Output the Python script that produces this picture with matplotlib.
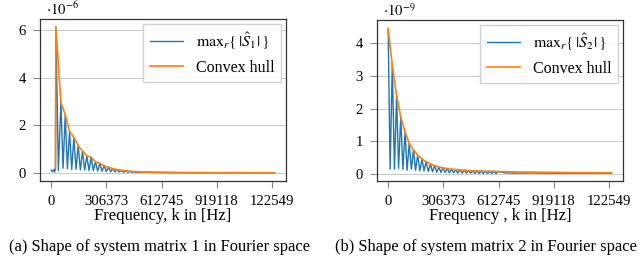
import numpy as np
import matplotlib
matplotlib.use('Agg')
import matplotlib.pyplot as plt

plt.rcParams['font.family'] = 'serif'
plt.rcParams['font.serif'] = ['Liberation Serif', 'DejaVu Serif']
plt.rcParams['mathtext.fontset'] = 'stix'

# x ticks (Hz) and their printed labels
tick_pos = [0, 306373, 612745, 919118, 1225490]
tick_lab = ['0', '306373', '612745', '919118', '122549']

# ---- panel (a): values in units of 1e-6, frequencies in kHz ----
pre_f1 = [0, 8, 14, 20, 24]
pre_v1 = [0.12, 0.05, 0.14, 0.04, 0.22]
peak_f1 = [26, 54, 78, 102, 126, 150, 174, 198, 222, 246, 270, 294, 318,
           342, 366, 390, 414, 438, 462, 486, 510]
peak_v1 = [6.15, 2.97, 2.45, 1.75, 1.50, 1.15, 0.92, 0.72, 0.66, 0.47,
           0.40, 0.30, 0.24, 0.18, 0.14, 0.11, 0.09, 0.07, 0.06, 0.05, 0.04]
trough_f1 = [40, 66, 90, 114, 138, 162, 186, 210, 234, 258, 282, 306, 330,
             354, 378, 402, 426, 450, 474, 498]
trough_v1 = [0.10, 0.20, 0.18, 0.15, 0.15, 0.13, 0.12, 0.10, 0.10, 0.08,
             0.07, 0.06, 0.05, 0.04, 0.04, 0.03, 0.03, 0.02, 0.02, 0.02]
tail_f1 = [540, 570, 600, 650, 700, 800, 900, 1000, 1100, 1240]
tail_v1 = [0.03, 0.02, 0.025, 0.015, 0.01, 0.01, 0.01, 0.01, 0.01, 0.01]
hull_tail_f1 = [600, 700, 900, 1100, 1240]
hull_tail_v1 = [0.03, 0.02, 0.015, 0.012, 0.01]

# ---- panel (b): values in units of 1e-9, frequencies in kHz ----
peak_f2 = [0, 23, 47, 70, 94, 117, 141, 164, 188, 211, 235, 258, 282, 305,
           329, 352, 376, 399, 423, 446, 470, 493, 517, 540, 564, 587, 611]
peak_v2 = [4.45, 3.33, 2.41, 1.75, 1.29, 0.94, 0.74, 0.58, 0.46, 0.38, 0.31,
           0.26, 0.22, 0.19, 0.17, 0.15, 0.14, 0.13, 0.12, 0.11, 0.105, 0.10,
           0.095, 0.09, 0.088, 0.085, 0.08]
trough_f2 = [11, 35, 58, 82, 105, 129, 152, 176, 199, 223, 246, 270, 293,
             317, 340, 364, 387, 411, 434, 458, 481, 505, 528, 552, 575, 599]
trough_v2 = [0.15, 0.15, 0.18, 0.15, 0.12, 0.15, 0.12, 0.10, 0.10, 0.08,
             0.07, 0.06, 0.05, 0.05, 0.04, 0.04, 0.03, 0.03, 0.03, 0.03,
             0.02, 0.02, 0.02, 0.02, 0.02, 0.02]
tail_f2 = [650, 700, 800, 900, 1000, 1100, 1240]
tail_v2 = [0.04, 0.03, 0.035, 0.03, 0.03, 0.03, 0.03]
hull_tail_f2 = [700, 900, 1100, 1240]
hull_tail_v2 = [0.07, 0.055, 0.045, 0.04]

blue = '#1f77b4'
orange = '#ff7f0e'


def merge(*pairs):
    f = np.concatenate([np.asarray(p[0], float) for p in pairs])
    v = np.concatenate([np.asarray(p[1], float) for p in pairs])
    o = np.argsort(f, kind='stable')
    return f[o] * 1e3, v[o]


fig = plt.figure(figsize=(6.4, 2.58), dpi=100)
ax1 = fig.add_axes([0.0625, 0.2984, 0.384, 0.6276])
ax2 = fig.add_axes([0.589, 0.2984, 0.384, 0.6238])

sig1 = merge((pre_f1, pre_v1), (peak_f1, peak_v1), (trough_f1, trough_v1),
             (tail_f1, tail_v1))
hull1 = merge(([pre_f1[-1]], [pre_v1[-1]]), (peak_f1, peak_v1),
              (hull_tail_f1, hull_tail_v1))
sig2 = merge((peak_f2, peak_v2), (trough_f2, trough_v2), (tail_f2, tail_v2))
hull2 = merge((peak_f2, peak_v2), (hull_tail_f2, hull_tail_v2))

panels = [
    (ax1, sig1, hull1, r'$\mathrm{max}_r\{\,|\hat{S}_1|\,\}$',
     r'$\cdot 10^{-6}$', (-0.34, 6.48), [0, 2, 4, 6],
     'Frequency, k in [Hz]',
     '(a) Shape of system matrix 1 in Fourier space', 160, 'center'),
    (ax2, sig2, hull2, r'$\mathrm{max}_r\{\,|\hat{S}_2|\,\}$',
     r'$\cdot 10^{-9}$', (-0.21, 4.71), [0, 1, 2, 3, 4],
     'Frequency , k in [Hz]',
     '(b) Shape of system matrix 2 in Fourier space', 335, 'left'),
]

for ax, sig, hull, lab, off, ylim, yt, xl, cap, cx, cha in panels:
    ax.plot(sig[0], sig[1], color=blue, lw=1.0, label=lab)
    ax.plot(hull[0], hull[1], color=orange, lw=1.2, label='Convex hull')
    ax.set_ylim(*ylim)
    ax.set_yticks(yt)
    ax.set_xticks(tick_pos)
    ax.set_xticklabels(tick_lab)
    ax.grid(axis='y', color='#cccccc', lw=0.8)
    ax.set_axisbelow(True)
    for s in ax.spines.values():
        s.set_color('#333333')
        s.set_linewidth(0.9)
    ax.tick_params(labelsize=10.6, color='#888888', length=5, width=0.8,
                   pad=5)
    ax.set_xlabel(xl, fontsize=12, labelpad=0)
    ax.text(0.025, 1.005, off, transform=ax.transAxes, fontsize=10.5,
            ha='left', va='bottom')
    fig.text(cx / 640, 1 - 239 / 258, cap, fontsize=11.9,
             ha=cha, va='top')
    ax.legend(loc='upper right', fontsize=11.5, handlelength=2.1,
              borderaxespad=0.3, fancybox=False, edgecolor='#cccccc',
              framealpha=0.9)

fig.savefig('out.png', dpi=100)
